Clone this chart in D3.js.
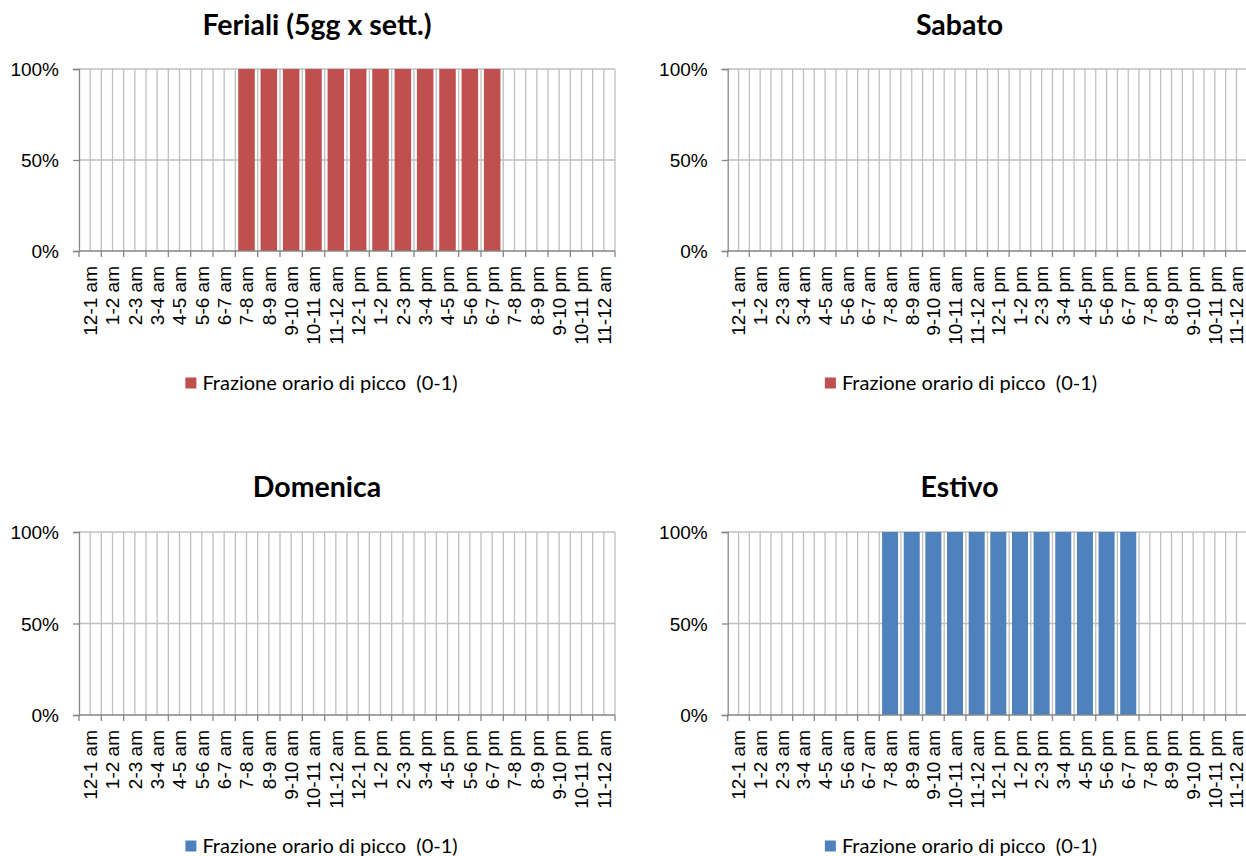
<!DOCTYPE html>
<html>
<head>
<meta charset="utf-8">
<script src="https://cdn.jsdelivr.net/npm/d3@7"></script>
<style>
  html, body { margin: 0; padding: 0; background: #fff; }
  svg { display: block; font-family: Lato, "Open Sans", sans-serif; }
</style>
</head>
<body>
<svg id="chart" width="1246" height="856"></svg>
<script>
// Hourly slots of the day
const hours = ["12-1 am","1-2 am","2-3 am","3-4 am","4-5 am","5-6 am","6-7 am","7-8 am",
  "8-9 am","9-10 am","10-11 am","11-12 am","12-1 pm","1-2 pm","2-3 pm","3-4 pm",
  "4-5 pm","5-6 pm","6-7 pm","7-8 pm","8-9 pm","9-10 pm","10-11 pm","11-12 am"];

// Peak-hour fraction (0-1) per slot, one array per day type
const feriali  = [0,0,0,0,0,0,0,1,1,1,1,1,1,1,1,1,1,1,1,0,0,0,0,0];
const sabato   = [0,0,0,0,0,0,0,0,0,0,0,0,0,0,0,0,0,0,0,0,0,0,0,0];
const domenica = [0,0,0,0,0,0,0,0,0,0,0,0,0,0,0,0,0,0,0,0,0,0,0,0];
const estivo   = [0,0,0,0,0,0,0,1,1,1,1,1,1,1,1,1,1,1,1,0,0,0,0,0];

const titles = ["Feriali (5gg x sett.)", "Sabato", "Domenica", "Estivo"];
const seriesName = "Frazione orario di picco  (0-1)";
const yTicks = [0, 0.5, 1];

const RED = "#C0504D", BLUE = "#4F81BD";
const GRID = "#BFBFBF", AXIS = "#868686";

// Panel placement on the page
const panels = [
  { title: titles[0], values: feriali,  color: RED,  x0: 79,    x1: 615,    y0: 69,  y1: 251, cx: 317,   lx: 321.5, ly: 383, ty: 35 },
  { title: titles[1], values: sabato,   color: RED,  x0: 727.7, x1: 1247.3, y0: 69,  y1: 251, cx: 959.5, lx: 961,   ly: 383, ty: 35 },
  { title: titles[2], values: domenica, color: BLUE, x0: 79,    x1: 615,    y0: 532, y1: 715, cx: 317,   lx: 321.5, ly: 846, ty: 497 },
  { title: titles[3], values: estivo,   color: BLUE, x0: 727.7, x1: 1247.3, y0: 532, y1: 715, cx: 959.5, lx: 961,   ly: 846, ty: 497 }
];

const svg = d3.select("#chart");
const slots = d3.range(hours.length); // slot indices (labels repeat, so index the band scale)

panels.forEach(p => {
  const g = svg.append("g");

  const x = d3.scaleBand().domain(slots).range([p.x0, p.x1])
    .paddingInner(0.26).paddingOuter(0.13);
  const edge = d3.scaleLinear().domain([0, hours.length]).range([p.x0, p.x1]);
  const y = d3.scaleLinear().domain([0, 1]).range([p.y1, p.y0]);

  // vertical gridlines at slot edges and slot centres
  const half = d3.range(1, hours.length * 2 + 1).map(i => i / 2);
  g.append("g").selectAll("line").data(half).join("line")
    .attr("x1", d => edge(d)).attr("x2", d => edge(d))
    .attr("y1", p.y0).attr("y2", p.y1)
    .attr("stroke", GRID).attr("stroke-width", 1.3);

  // horizontal gridlines
  g.append("g").selectAll("line").data(yTicks.filter(v => v > 0)).join("line")
    .attr("x1", p.x0).attr("x2", p.x1)
    .attr("y1", d => y(d)).attr("y2", d => y(d))
    .attr("stroke", GRID).attr("stroke-width", 1.3);

  // bars
  g.append("g").selectAll("rect").data(p.values.map((v, i) => ({ i, v })))
    .join("rect")
    .attr("x", d => x(d.i))
    .attr("width", x.bandwidth())
    .attr("y", d => y(d.v))
    .attr("height", d => y(0) - y(d.v))
    .attr("fill", p.color);

  // y axis
  const ya = g.append("g").attr("transform", `translate(${p.x0},0)`)
    .call(d3.axisLeft(y).tickValues(yTicks).tickFormat(d3.format(".0%")).tickSize(6).tickPadding(14));
  ya.select(".domain").attr("stroke", AXIS).attr("stroke-width", 1.3);
  ya.selectAll(".tick line").attr("stroke", AXIS).attr("stroke-width", 1.3);
  ya.selectAll(".tick text").attr("fill", "#000").style("font-size", "19px").attr("dy", "0.36em");

  // x axis line and ticks on slot edges
  g.append("line").attr("x1", p.x0).attr("x2", p.x1).attr("y1", p.y1).attr("y2", p.y1)
    .attr("stroke", AXIS).attr("stroke-width", 1.3);
  g.append("g").selectAll("line").data(d3.range(0, hours.length + 1)).join("line")
    .attr("x1", d => edge(d)).attr("x2", d => edge(d))
    .attr("y1", p.y1).attr("y2", p.y1 + 6)
    .attr("stroke", AXIS).attr("stroke-width", 1.3);

  // rotated category labels
  const xa = g.append("g").attr("transform", `translate(0,${p.y1})`)
    .call(d3.axisBottom(x).tickSize(0).tickPadding(0).tickFormat(i => hours[i]));
  xa.select(".domain").remove();
  xa.selectAll(".tick text")
    .attr("fill", "#000")
    .style("font-size", "19px")
    .attr("text-anchor", "end")
    .attr("transform", "rotate(-90)")
    .attr("x", -15).attr("y", 0).attr("dy", "0.36em");

  // title
  g.append("text").attr("x", p.cx).attr("y", p.ty)
    .attr("text-anchor", "middle")
    .style("font-size", "28.5px").style("font-weight", "bold")
    .attr("fill", "#000")
    .text(p.title);

  // legend
  const lg = g.append("g");
  const lt = lg.append("text").attr("y", p.ly).attr("dy", "0.35em")
    .style("font-size", "20px").style("white-space", "pre")
    .attr("fill", "#000").text(seriesName);
  const tw = lt.node().getComputedTextLength();
  const total = 11 + 6 + tw;
  const start = p.lx - total / 2;
  lg.append("rect").attr("x", start).attr("y", p.ly - 5.5).attr("width", 11).attr("height", 11)
    .attr("fill", p.color);
  lt.attr("x", start + 17);
});
</script>
</body>
</html>
